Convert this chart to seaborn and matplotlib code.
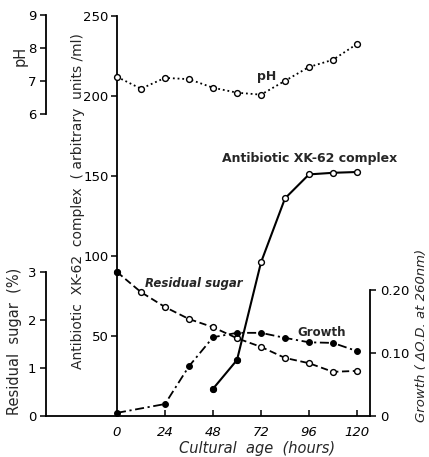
import matplotlib
matplotlib.use("Agg")
import matplotlib.pyplot as plt
import seaborn as sns
import pandas as pd

# ---------------- data ----------------
hours = [0, 12, 24, 36, 48, 60, 72, 84, 96, 108, 120]
ph = [7.12, 6.76, 7.09, 7.05, 6.79, 6.64, 6.58, 7.00, 7.42, 7.64, 8.12]
sugar = [3.00, 2.58, 2.27, 2.02, 1.85, 1.62, 1.44, 1.21, 1.10, 0.92, 0.94]
growth_hours = [0, 24, 36, 48, 60, 72, 84, 96, 108, 120]
growth = [0.005, 0.019, 0.079, 0.125, 0.132, 0.132, 0.124, 0.117, 0.116, 0.103]
anti_hours = [48, 60, 72, 84, 96, 108, 120]
antibiotic = [17, 35, 96, 136, 151, 152, 152.5]
sugar_filled = [0]          # indices drawn with filled markers
anti_filled = [0, 1]

x_ticks = [0, 24, 48, 72, 96, 120]
anti_ticks = [50, 100, 150, 200, 250]
sugar_ticks = [0, 1, 2, 3]
ph_ticks = [6, 7, 8, 9]
growth_ticks = [0, 0.10, 0.20]
growth_ticklabels = ["0", "0.10", "0.20"]

sns.set_style("ticks")
plt.rcParams['font.family'] = ['DejaVu Sans']

W, H = 429, 457
fig = plt.figure(figsize=(W / 100, H / 100), dpi=100)

def px(x, y):
    return x / W, 1 - y / H

rect = [46 / W, (H - 416) / H, 324 / W, 404 / H]
XLIM = (-35.5, 126.5)

ax = fig.add_axes(rect)
ax_s = fig.add_axes(rect, facecolor="none")
ax_p = fig.add_axes(rect, facecolor="none")
ax_g = fig.add_axes(rect, facecolor="none")

for a in (ax, ax_s, ax_p, ax_g):
    a.set_xlim(*XLIM)
    for sp in a.spines.values():
        sp.set_visible(False)
        sp.set_linewidth(1.3)
        sp.set_color("black")

ax.set_ylim(0, 252.5)
ax_s.set_ylim(0, 404 / 48)
ax_p.set_ylim(6 - (416 - 113) / 33, 9 + 3 / 33)
ax_g.set_ylim(0, 404 / 630)

tick_kw = dict(length=4, width=1.1, colors="black", labelsize=9.5)

# main axes
ax.spines['left'].set_visible(True)
ax.spines['left'].set_position(('data', 0))
ax.spines['left'].set_bounds(0, 250)
ax.spines['bottom'].set_visible(True)
ax.set_xticks(x_ticks)
ax.set_xticklabels([str(t) for t in x_ticks], fontstyle="italic")
ax.tick_params(axis='x', direction='in', pad=7, **tick_kw)
ax.set_yticks(anti_ticks)
ax.tick_params(axis='y', direction='out', pad=2, **tick_kw)

# sugar axis
ax_s.spines['left'].set_visible(True)
ax_s.spines['left'].set_bounds(0, 3)
ax_s.set_xticks([])
ax_s.set_yticks(sugar_ticks)
ax_s.tick_params(axis='y', direction='out', pad=3, **tick_kw)

# pH axis
ax_p.spines['left'].set_visible(True)
ax_p.spines['left'].set_bounds(6, 9)
ax_p.set_xticks([])
ax_p.set_yticks(ph_ticks)
ax_p.tick_params(axis='y', direction='out', pad=3, **tick_kw)

# growth axis
ax_g.spines['right'].set_visible(True)
ax_g.spines['right'].set_bounds(0, 0.2)
ax_g.set_xticks([])
ax_g.yaxis.tick_right()
ax_g.set_yticks(growth_ticks)
ax_g.set_yticklabels(growth_ticklabels)
ax_g.tick_params(axis='y', direction='out', pad=3, **tick_kw)

# ---------------- series ----------------
df_ph = pd.DataFrame({"h": hours, "v": ph})
df_s = pd.DataFrame({"h": hours, "v": sugar})
df_g = pd.DataFrame({"h": growth_hours, "v": growth})
df_a = pd.DataFrame({"h": anti_hours, "v": antibiotic})

lw = 1.3
ms = 4.2
sns.lineplot(data=df_ph, x="h", y="v", ax=ax_p, color="black", lw=lw,
             linestyle=(0, (1, 1.6)), marker="o", markersize=ms,
             markerfacecolor="white", markeredgecolor="black", markeredgewidth=1)
sns.lineplot(data=df_s, x="h", y="v", ax=ax_s, color="black", lw=lw,
             linestyle=(0, (4, 2)), marker="o", markersize=ms,
             markerfacecolor="white", markeredgecolor="black", markeredgewidth=1)
sns.scatterplot(data=df_s.iloc[sugar_filled], x="h", y="v", ax=ax_s,
                color="black", s=20, edgecolor="black", zorder=5)
sns.lineplot(data=df_g, x="h", y="v", ax=ax_g, color="black", lw=lw,
             linestyle=(0, (5, 2, 1.2, 2)), marker="o", markersize=ms,
             markerfacecolor="black", markeredgecolor="black")
sns.lineplot(data=df_a, x="h", y="v", ax=ax, color="black", lw=1.5,
             marker="o", markersize=ms,
             markerfacecolor="white", markeredgecolor="black", markeredgewidth=1)
sns.scatterplot(data=df_a.iloc[anti_filled], x="h", y="v", ax=ax,
                color="black", s=20, edgecolor="black", zorder=5)

for a in (ax, ax_s, ax_p, ax_g):
    a.set_xlabel("")
    a.set_ylabel("")
    a.set_xlim(*XLIM)

# ---------------- annotations ----------------
ax.text(75, 212, "pH", fontsize=9, fontweight="bold", ha="center", va="center")
ax.text(96.5, 161, "Antibiotic XK-62 complex", fontsize=9, fontweight="bold",
        ha="center", va="center")
ax.text(14, 83, "Residual sugar", fontsize=8.5, fontweight="bold",
        fontstyle="italic", ha="left", va="center")
ax.text(90, 52, "Growth", fontsize=8.5, fontweight="bold",
        ha="left", va="center")

fig.text(*px(20, 56), "pH", rotation=90, fontsize=10.5, ha="center", va="center")
fig.text(*px(78, 201), "Antibiotic  XK-62  complex  ( arbitrary  units /ml)",
         rotation=90, fontsize=10, ha="center", va="center")
fig.text(*px(15, 341), "Residual  sugar  (%)", rotation=90, fontsize=10.5,
         ha="center", va="center")
fig.text(*px(422, 335), "Growth ( ΔO.D. at 260nm)", rotation=90, fontsize=9.5,
         fontstyle="italic", ha="center", va="center")
fig.text(*px(257, 449), "Cultural  age  (hours)", fontsize=10.5,
         fontstyle="italic", ha="center", va="center")

fig.savefig("out.png", dpi=100)
